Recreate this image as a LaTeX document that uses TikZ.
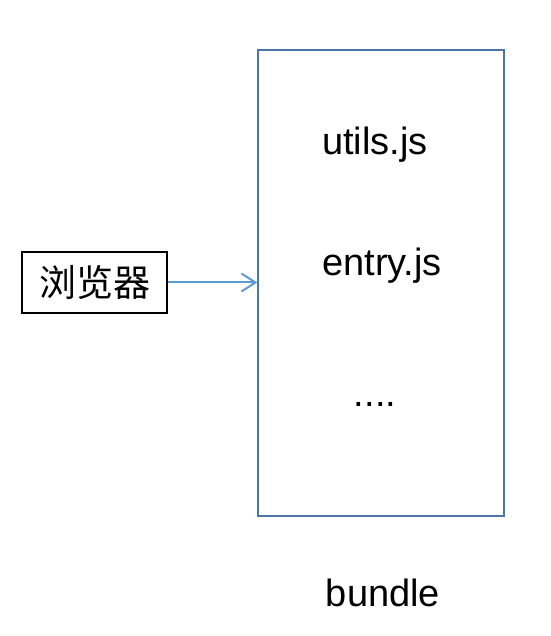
\documentclass[tikz,border=0pt]{standalone}
\usepackage{fontspec}
\setmainfont{Liberation Sans}
\newfontfamily\cjk{Noto Sans CJK SC}
\usetikzlibrary{arrows.meta}
\definecolor{boxblue}{HTML}{4A76A8}
\definecolor{arrowblue}{HTML}{5B9BD5}
\tikzset{
    filebox/.style={draw=boxblue, line width=1.4pt, minimum width=246pt, minimum height=466pt, inner sep=0pt},
    clientbox/.style={draw=black, line width=1.6pt, minimum width=145pt, minimum height=61pt, inner sep=0pt, font=\cjk\fontsize{37}{42}\selectfont},
    filename/.style={inner sep=0pt, font=\fontsize{38}{44}\selectfont}
}

\begin{document}
\begin{tikzpicture}[x=1pt,y=1pt]
    \useasboundingbox (0,0) rectangle (550,636);
    \node[filebox] (bundlebox) at (381,353) {};
    \node[clientbox] (browser) at (94.5,353.5) {浏览器};
    \node[filename, anchor=base west] (utils) at (322,481) {utils.js};
    \node[filename, anchor=base west] (entry) at (322,360) {entry.js};
    \node[filename, anchor=base] (dots) at (375,229) {....};
    \node[filename, anchor=base] (bundle) at (383,29) {bundle};
    \draw[-{Straight Barb[length=14pt,width=18pt]}, arrowblue, line width=2pt]
        (browser.east) -- (browser.east -| bundlebox.west);
\end{tikzpicture}
\end{document}
